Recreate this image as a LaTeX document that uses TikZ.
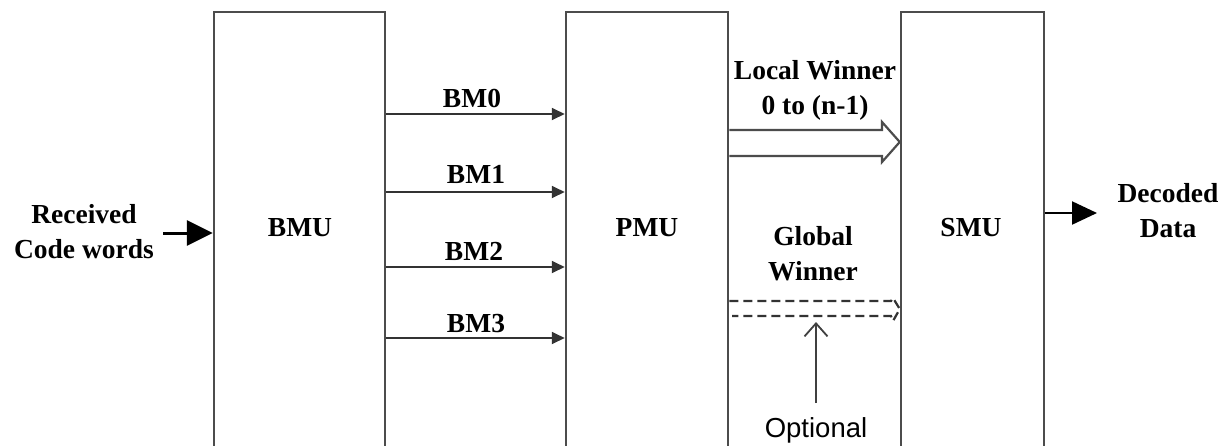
\documentclass[tikz,border=0pt]{standalone}
\usepackage{fontspec}
\setmainfont{Liberation Serif}
\newfontfamily\arialfont{Liberation Sans}
\usetikzlibrary{arrows.meta}
\begin{document}
\begin{tikzpicture}[x=1pt,y=-1pt,
  box/.style={draw=black!70,line width=2.5pt,minimum height=440pt,inner sep=0pt},
  lbl/.style={font=\fontsize{27.5}{35}\selectfont\bfseries,align=center,inner sep=0pt},
  bm/.style={draw=black!80,line width=1.8pt,-{Triangle[length=13pt,width=12pt]}},
  hollow/.style={draw=black!70,line width=2.2pt},
  dsh/.style={draw=black!80,line width=2.2pt,dash pattern=on 9pt off 5pt}
  ]
\useasboundingbox (0,0) rectangle (1230,445);
\clip (0,0) rectangle (1230,445);
\fill[white] (0,0) rectangle (1230,445);
% boxes
\node[box,minimum width=171pt] (bmu) at (299.5,232) {};
\node[box,minimum width=162pt] (pmu) at (647,232) {};
\node[box,minimum width=143pt] (smu) at (972.5,232) {};
\node[lbl] (bmuL) at (300,228) {BMU};
\node[lbl] (pmuL) at (647,228) {PMU};
\node[lbl] (smuL) at (971,228) {SMU};
% input
\node[lbl] (rx) at (84,232) {Received\\Code words};
\coordinate (rxs) at (163,233);
\draw[draw=black,line width=3pt,-{Triangle[length=26pt,width=25pt]}] (rxs) -- (bmu.west |- rxs);
% output
\node[lbl] (dd) at (1168,211) {Decoded\\Data};
\coordinate (dde) at (1097,213);
\draw[draw=black,line width=2.2pt,-{Triangle[length=25pt,width=23pt]}] (smu.east |- dde) -- (dde);
% branch metrics
\foreach \i/\y/\lx/\ly in {0/114/472/98, 1/192/476/174, 2/267/474/251, 3/338/476/323.5}{
  \coordinate (bm\i) at (0,\y);
  \draw[bm] (bmu.east |- bm\i) -- (pmu.west |- bm\i);
  \node[lbl] (bmL\i) at (\lx,\ly) {BM\i};
}
% local winner
\node[lbl] (lw) at (815,90) {Local Winner\\0 to (n-1)};
\coordinate (lwT) at (0,130);
\coordinate (lwB) at (0,156);
\coordinate (lwM) at (0,142);
\draw[hollow] (pmu.east |- lwT) -- (882,130) -- (882,122) -- (smu.west |- lwM) -- (882,162) -- (882,156) -- (pmu.east |- lwB);
% global winner
\node[lbl] (gw) at (813,254) {Global\\Winner};
\coordinate (gwT) at (0,301);
\coordinate (gwM) at (0,309);
\draw[dsh] (pmu.east |- gwT) -- (891,301) -- (893,298) -- (smu.west |- gwM) -- (893,321) -- (891,316) -- (732,316);
% optional
\node[font=\arialfont\fontsize{27.5}{33}\selectfont,inner sep=0pt] (opt) at (816,430) {Optional};
\coordinate (optS) at (816,403);
\coordinate (optE) at (816,322);
\draw[draw=black!75,line width=1.8pt,-{Straight Barb[length=13pt,width=23pt,line width=1.8pt]}] (optS) -- (optE);
\end{tikzpicture}
\end{document}
